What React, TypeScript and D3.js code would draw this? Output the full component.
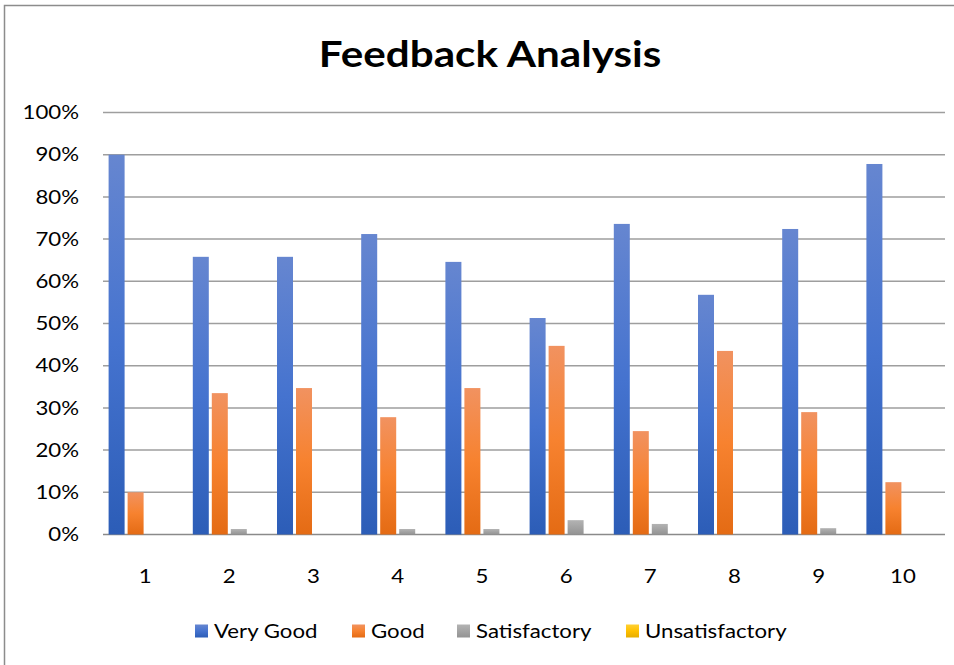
import { useEffect, useRef } from 'react';
import * as d3 from 'd3';

const categories = ['1', '2', '3', '4', '5', '6', '7', '8', '9', '10'];
const seriesNames = ['Very Good', 'Good', 'Satisfactory', 'Unsatisfactory'];
const veryGood = [0.9, 0.658, 0.658, 0.712, 0.646, 0.513, 0.736, 0.568, 0.724, 0.878];
const good = [0.1, 0.335, 0.347, 0.278, 0.347, 0.447, 0.245, 0.435, 0.29, 0.124];
const satisfactory = [0, 0.013, 0, 0.013, 0.013, 0.034, 0.025, 0, 0.015, 0];
const unsatisfactory = [0, 0, 0, 0, 0, 0, 0, 0, 0, 0];
const yTicks = [0, 0.1, 0.2, 0.3, 0.4, 0.5, 0.6, 0.7, 0.8, 0.9, 1];

// top / middle / bottom colours of the Excel-style gradient fills
const fills = [
  ['#6686d0', '#4573cf', '#2c5db7'],
  ['#f19260', '#f7822f', '#e46b14'],
  ['#b3b3b3', '#a3a3a3', '#939393'],
  ['#ffd033', '#ffc000', '#e6ad00'],
];

const App = () => {
  const ref = useRef(null);

  useEffect(() => {
    const width = 954;
    const height = 665;
    const svg = d3.select(ref.current);
    svg.selectAll('*').remove();
    svg.attr('width', width).attr('height', height);

    const font = 'Lato, "Open Sans", sans-serif';
    const stretch = 1.17; // reference text is wider than Lato at the same height
    const values = [veryGood, good, satisfactory, unsatisfactory];

    const defs = svg.append('defs');
    fills.forEach((c, i) => {
      const g = defs.append('linearGradient')
        .attr('id', `grad${i}`)
        .attr('x1', 0).attr('y1', 0).attr('x2', 0).attr('y2', 1);
      g.append('stop').attr('offset', '0%').attr('stop-color', c[0]);
      g.append('stop').attr('offset', '50%').attr('stop-color', c[1]);
      g.append('stop').attr('offset', '100%').attr('stop-color', c[2]);
    });

    svg.append('rect')
      .attr('width', width).attr('height', height).attr('fill', '#fff');

    // outer chart frame
    svg.append('rect')
      .attr('x', 4.5).attr('y', 5.5)
      .attr('width', width + 10).attr('height', height + 10)
      .attr('fill', 'none').attr('stroke', '#8c8c8c').attr('stroke-width', 1.5);

    svg.append('text')
      .attr('transform', 'translate(490,67) scale(1.14,1)')
      .attr('text-anchor', 'middle')
      .attr('font-family', font).attr('font-weight', 700)
      .attr('font-size', 37)
      .text('Feedback Analysis');

    const x = d3.scaleBand().domain(categories).range([103, 945]);
    const groupW = 73;
    const x1 = d3.scaleBand().domain(seriesNames)
      .range([(x.bandwidth() - groupW) / 2, (x.bandwidth() + groupW) / 2])
      .paddingInner(3 / 19);
    const y = d3.scaleLinear().domain([0, 1]).range([534.5, 112.5]);

    svg.append('g').selectAll('line')
      .data(yTicks)
      .enter().append('line')
      .attr('x1', 103).attr('x2', 945)
      .attr('y1', (d) => y(d)).attr('y2', (d) => y(d))
      .attr('stroke', (d) => (d === 0 ? '#8a8a8a' : '#9e9e9e'))
      .attr('stroke-width', 1.5);

    svg.append('g').selectAll('text')
      .data(yTicks)
      .enter().append('text')
      .attr('transform', (d) => `translate(79,${y(d)}) scale(${stretch},1)`)
      .attr('dy', '0.35em')
      .attr('text-anchor', 'end')
      .attr('font-family', font).attr('font-size', 19)
      .attr('fill', '#000')
      .text((d) => d3.format('.0%')(d));

    const groups = svg.append('g').selectAll('g')
      .data(categories)
      .enter().append('g')
      .attr('transform', (d) => `translate(${x(d)},0)`);

    groups.selectAll('rect')
      .data((d, ci) => seriesNames.map((s, si) => ({ s, si, v: values[si][ci] })))
      .enter().append('rect')
      .filter((d) => d.v > 0)
      .attr('x', (d) => x1(d.s))
      .attr('y', (d) => y(d.v))
      .attr('width', x1.bandwidth())
      .attr('height', (d) => y(0) - y(d.v))
      .attr('fill', (d) => `url(#grad${d.si})`);

    svg.append('g').selectAll('text')
      .data(categories)
      .enter().append('text')
      .attr('transform', (d) => `translate(${x(d) + x.bandwidth() / 2},576) scale(${stretch},1)`)
      .attr('dy', '0.35em')
      .attr('text-anchor', 'middle')
      .attr('font-family', font).attr('font-size', 19)
      .text((d) => d);

    const legendX = [195, 352, 457, 626];
    const legend = svg.append('g').selectAll('g')
      .data(seriesNames)
      .enter().append('g')
      .attr('transform', (d, i) => `translate(${legendX[i]},631)`);
    legend.append('rect')
      .attr('x', 0).attr('y', -6.5)
      .attr('width', 13).attr('height', 13)
      .attr('fill', (d, i) => `url(#grad${i})`);
    legend.append('text')
      .attr('transform', `translate(19,0) scale(${stretch},1)`)
      .attr('dy', '0.35em')
      .attr('font-family', font).attr('font-size', 19)
      .text((d) => d);
  }, []);

  return <svg ref={ref} style={{ position: 'absolute', left: 0, top: 0 }}></svg>;
};

export default App;
